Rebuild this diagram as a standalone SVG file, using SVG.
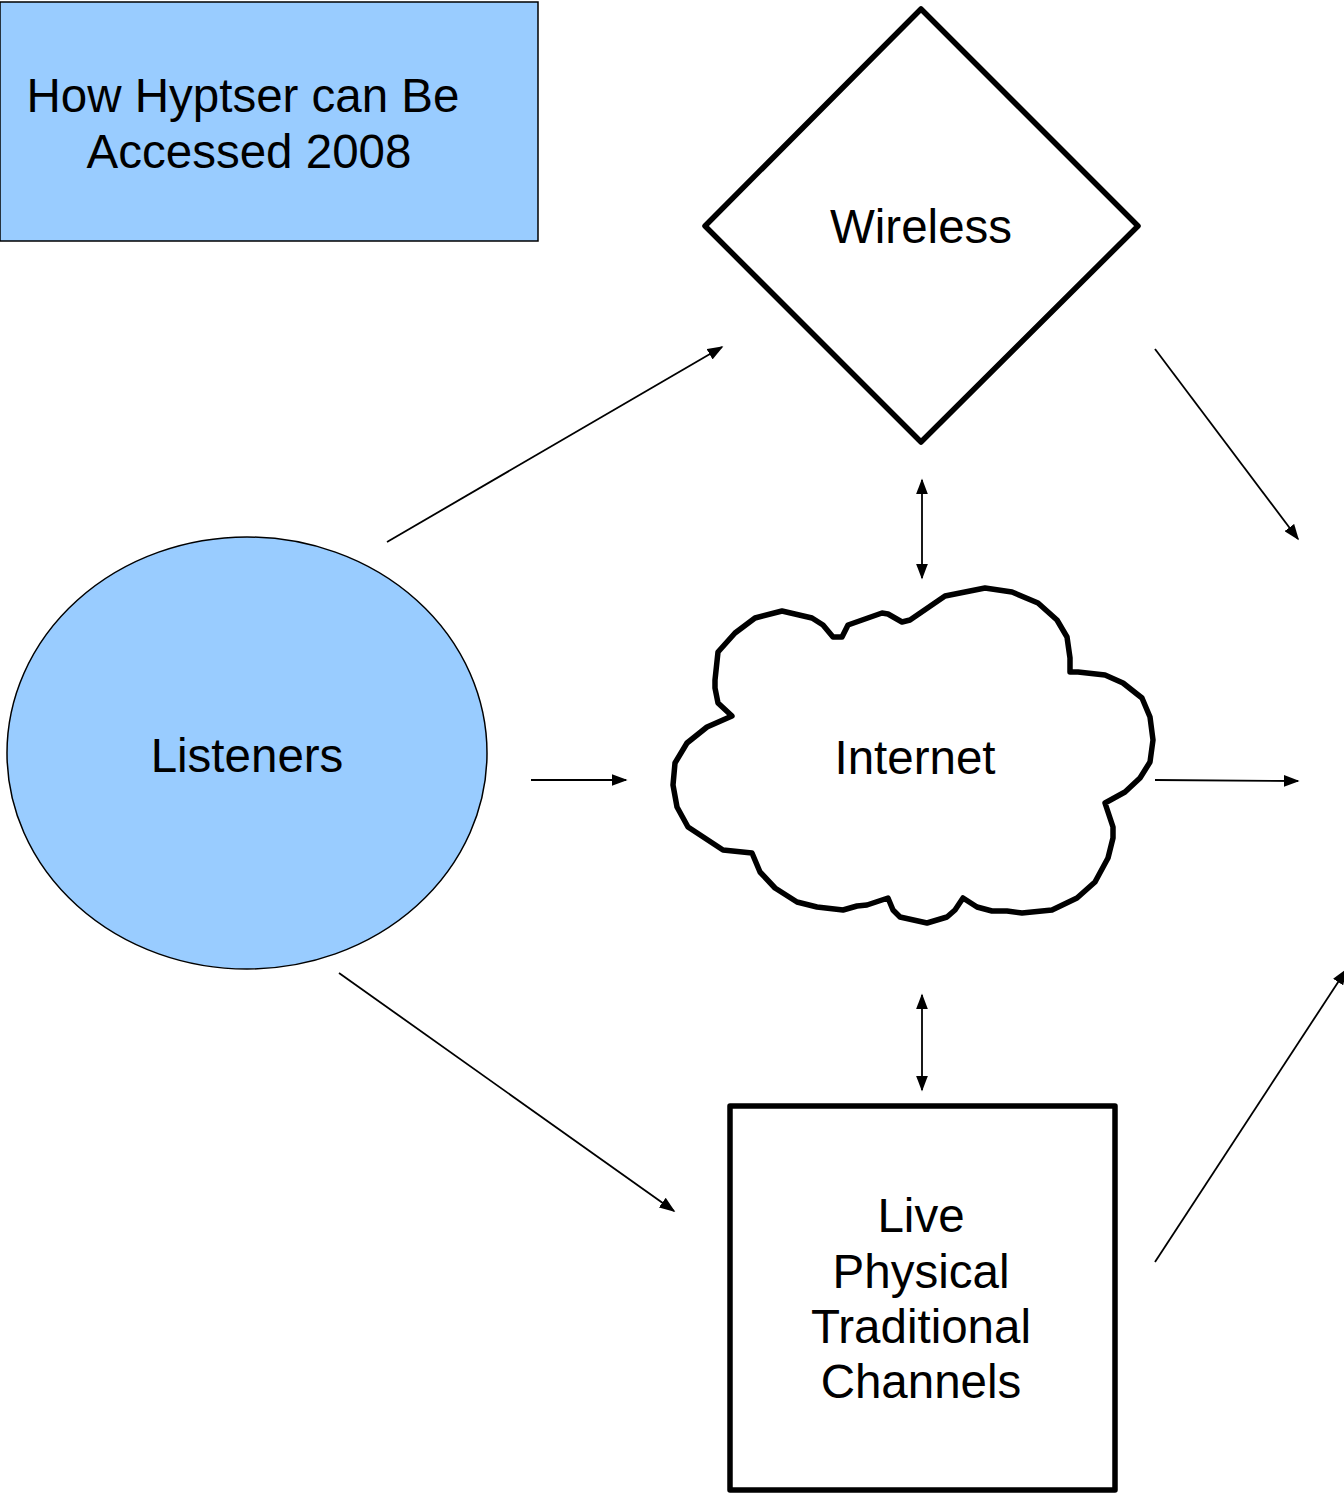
<svg xmlns="http://www.w3.org/2000/svg" width="1344" height="1494" viewBox="0 0 1344 1494">
  <style>
    .lbl { font-family: "Liberation Sans", Arial, sans-serif; font-size: 47.5px; fill: #000; text-anchor: middle; }
    .blue { fill: #99ccff; stroke: #000; stroke-width: 1.5; }
    .bold { fill: #fff; stroke: #000; stroke-width: 5.5; stroke-linejoin: round; }
    .conn { stroke: #000; stroke-width: 1.8; fill: none; }
  </style>
  <defs>
    <marker id="arr2" viewBox="0 0 10 10" refX="9" refY="5" markerWidth="16" markerHeight="12" markerUnits="userSpaceOnUse" orient="auto-start-reverse" preserveAspectRatio="none">
      <path d="M0,0 L10,5 L0,10 z" fill="#000"/>
    </marker>
  </defs>

  <rect width="1344" height="1494" fill="#fff"/>

  <g id="title">
    <rect class="blue" x="0" y="2" width="538" height="239"/>
    <text class="lbl" x="243" y="112">How Hyptser can Be</text>
    <text class="lbl" x="249" y="168">Accessed 2008</text>
  </g>

  <g id="listeners">
    <ellipse class="blue" cx="247" cy="753" rx="240" ry="216"/>
    <text class="lbl" x="247" y="772">Listeners</text>
  </g>

  <g id="wireless">
    <polygon class="bold" points="921,9 1138,226 921,442 705,226"/>
    <text class="lbl" x="921" y="243">Wireless</text>
  </g>

  <g id="internet">
    <polygon class="bold" points="910,620 945,596 985,588 1012,592 1038,603 1057,620 1067,637 1070,658 1070,672 1078,672 1105,675 1123,683 1142,698 1150,717 1153,740 1150,762 1140,778 1125,792 1105,803 1113,827 1113,838 1108,858 1095,882 1077,898 1052,910 1022,913 1007,911 992,911 977,907 963,898 955,910 947,917 927,923 900,917 893,910 888,898 867,905 857,906 843,910 817,907 797,902 775,888 760,872 752,853 723,850 688,827 677,807 673,785 675,763 687,743 707,727 732,716 718,703 715,688 715,680 718,652 735,633 755,618 782,611 812,618 823,625 833,637 842,637 848,625 882,613 888,614 902,622"/>
    <text class="lbl" x="915" y="774">Internet</text>
  </g>

  <g id="live">
    <rect class="bold" x="730" y="1106" width="385" height="384"/>
    <text class="lbl" x="921" y="1232">Live</text>
    <text class="lbl" x="921" y="1288">Physical</text>
    <text class="lbl" x="921" y="1343">Traditional</text>
    <text class="lbl" x="921" y="1398">Channels</text>
  </g>

  <g id="connectors">
    <line class="conn" x1="387" y1="542" x2="722" y2="347" marker-end="url(#arr2)"/>
    <line class="conn" x1="531" y1="780" x2="626" y2="780" marker-end="url(#arr2)"/>
    <line class="conn" x1="339" y1="973" x2="674" y2="1211" marker-end="url(#arr2)"/>
    <line class="conn" x1="922" y1="480" x2="922" y2="578" marker-start="url(#arr2)" marker-end="url(#arr2)"/>
    <line class="conn" x1="922" y1="995" x2="922" y2="1090" marker-start="url(#arr2)" marker-end="url(#arr2)"/>
    <line class="conn" x1="1155" y1="349" x2="1298" y2="539" marker-end="url(#arr2)"/>
    <line class="conn" x1="1155" y1="780" x2="1298" y2="781" marker-end="url(#arr2)"/>
    <line class="conn" x1="1155" y1="1262" x2="1346" y2="970" marker-end="url(#arr2)"/>
  </g>
</svg>
